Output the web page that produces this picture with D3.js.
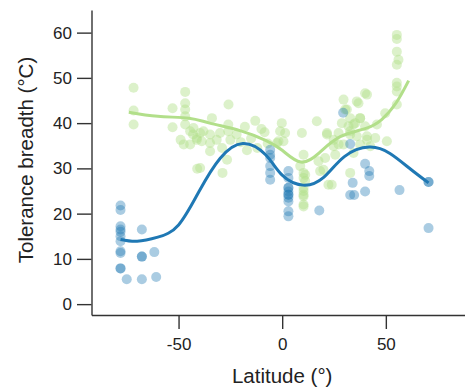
<!DOCTYPE html>
<html>
<head>
<meta charset="utf-8">
<script src="https://cdn.jsdelivr.net/npm/d3@7"></script>
<style>
  body { margin: 0; background: #fff; }
  svg { display: block; font-family: 'Liberation Sans', Arial, sans-serif; }
</style>
</head>
<body>
<div id="chart"></div>
<script>
// tick labels
const xTicks = [-50, 0, 50];
const yTicks = [0, 10, 20, 30, 40, 50, 60];

// blue group: observations
const blueLat = [
  -78, -78, -78, -78, -78, -78, -78, -78, -78, -78, -78,
  -75, -67.7, -67.7, -67.7, -67.7, -61.7, -60.8,
  -5.8, -5.8, -5.8, -5.8, -5.8, -5.8,
  3, 3, 3, 3, 3, 3, 3, 3, 3, 3, 3,
  17.9, 29.4, 32.8, 40, 40, 42, 42, 34, 32.8, 34.7, 56.6, 70.6, 70.6, 70.6
];
const blueVal = [
  21.8, 20.8, 17.2, 16.5, 16, 15, 13.9, 11.7, 11.3, 7.9, 7.9,
  5.5, 16.5, 10.5, 10.5, 5.5, 11.5, 6.0,
  34.1, 33, 32.3, 30.5, 29, 27.5,
  29.4, 27.9, 25.7, 25.7, 24.9, 24.2, 24.2, 23.5, 22.7, 20.5, 19.4,
  20.7, 42.3, 35.4, 31, 24.9, 29.4, 28.3, 26.8, 24.1, 24.1, 25.2, 27, 27, 16.8
];

// green group: observations
const greenLat = [
  -71.7, -71.7, -71.7, -52.9, -52.9,
  -46.8, -46.8, -46.8, -46.8, -46.8, -44.4, -43, -41.2, -33.9, -44.4, -38.8,
  -25.9, -42.8, -41.2, -38, -34.8, -34.8, -31.6, -30, -26, -26, -25, -29, -34.8, -26.6, -49, -47.5,
  -41, -28.8, -39.6, -39.6,
  -13, -10, -15, -12, -8.5, -18, -7, -20, -22, -17,
  -0.2, 1.4, -1.8, 9.5, 16.7, 10.3, 10.3, 10.3, 10.3, 10.3, 8.7, 18.3, 20.7, 21.6,
  10.3, 10.3, 10.3,
  29.6, 36.8, 40.9, 31.2, 28.8, 32, 35.2, 37.6, 40, 21.6, 24.8, 27.2, 29.6, 32.8, 36,
  34.4, 37.6, 40.9, -1, 0.6, -2.5, 17.5, 25.6, 19.9, 22.3, 23.9, 32.8, 11.1, 11.1, 10.3,
  55.3, 55.3, 55.3, 56.1, 55.3, 55.3, 55.3, 55.3, 55.3,
  40, 36, 49.7, 30.4, 32.8, 37.6, 34.4, 45.7, 27.2, 32.8, 40.9, 44.9, 50.5, 42.5, 24.8
];
const greenVal = [
  47.8, 42.8, 39.7, 43.3, 39.1,
  46.9, 44.4, 43, 41.5, 39.7, 38.2, 37.5, 36.7, 41.1, 35.3, 36,
  44.1, 38.9, 36.3, 38.2, 37.5, 35.6, 36.3, 37.8, 39.7, 38.2, 36.3, 34.5, 33.8, 31.9, 36.3, 35.3,
  29.9, 29, 37.8, 30.1,
  40.5, 38.7, 36.6, 34.5, 38, 39.2, 35.5, 35.8, 37.5, 34,
  40, 37.8, 36, 37.8, 40.4, 33, 27.9, 25.7, 23.8, 22, 30.5, 29.4, 32.3, 37.8,
  29, 24.2, 21.6,
  45.2, 44.4, 46.3, 43, 40, 39.3, 40, 41.1, 39.3, 37.5, 36.3, 35.3, 35.3, 37.5, 37.1,
  33.4, 35.3, 36.3, 38.2, 36, 35.6, 31.6, 33, 29.7, 26.4, 26.4, 29, 28.6, 27.2, 25,
  59.5, 58.6, 55.8, 54, 52.9, 48.9, 48.1, 47, 44.1,
  46.6, 44.8, 42.2, 43, 41.1, 41.1, 39.7, 39.7, 37.8, 38.2, 37.1, 36.7, 36, 34.9, 34.9
];

// smoothed fits
const blueFitLat = [-78, -70, -60, -50, -40, -30, -19, -8, 0, 10, 20, 30, 42, 52, 62, 70.6];
const blueFitVal = [14.3, 13.9, 14.8, 17.5, 25, 32.2, 35.5, 33, 28.5, 26.3, 28, 32.6, 34.7, 33.3, 29.8, 26.8];
const greenFitLat = [-74, -60, -45, -35, -20, -8, 0, 9, 18, 28, 40, 48, 55, 61];
const greenFitVal = [42.4, 41.5, 41.1, 40, 38.3, 36.2, 34, 31.4, 33.5, 37, 38.8, 40.8, 44.5, 49.4];

const width = 465;
const height = 388;
const blue = '#1f78b4';
const green = '#b2df8a';

const x = d3.scaleLinear().domain([-92, 88]).range([91.5, 464.6]);
const y = d3.scaleLinear().domain([-2.4, 65]).range([315, 10]);

const svg = d3.select('#chart').append('svg')
  .attr('width', width)
  .attr('height', height);

// points
const greenPts = greenLat.map((d, i) => ({lat: d, val: greenVal[i]}));
const bluePts = blueLat.map((d, i) => ({lat: d, val: blueVal[i]}));

svg.append('g')
  .selectAll('circle')
  .data(greenPts)
  .join('circle')
  .attr('cx', d => x(d.lat))
  .attr('cy', d => y(d.val))
  .attr('r', 5)
  .attr('fill', green)
  .attr('fill-opacity', 0.45);

svg.append('g')
  .selectAll('circle')
  .data(bluePts)
  .join('circle')
  .attr('cx', d => x(d.lat))
  .attr('cy', d => y(d.val))
  .attr('r', 5)
  .attr('fill', blue)
  .attr('fill-opacity', 0.38);

// fitted curves
const line = d3.line()
  .x(d => x(d[0]))
  .y(d => y(d[1]))
  .curve(d3.curveNatural);

svg.append('path')
  .datum(greenFitLat.map((d, i) => [d, greenFitVal[i]]))
  .attr('fill', 'none')
  .attr('stroke', green)
  .attr('stroke-width', 3)
  .attr('d', line);

svg.append('path')
  .datum(blueFitLat.map((d, i) => [d, blueFitVal[i]]))
  .attr('fill', 'none')
  .attr('stroke', blue)
  .attr('stroke-width', 3)
  .attr('d', line);

// axes
const xAxis = g => g
  .attr('transform', `translate(0,${y.range()[0]})`)
  .call(d3.axisBottom(x).tickValues(xTicks).tickFormat(d => String(d))
    .tickSize(14).tickPadding(9).tickSizeOuter(0));

const yAxis = g => g
  .attr('transform', `translate(${x.range()[0]},0)`)
  .call(d3.axisLeft(y).tickValues(yTicks).tickFormat(d => String(d))
    .tickSize(14.5).tickPadding(5).tickSizeOuter(0));

[xAxis, yAxis].forEach(ax => {
  const g = svg.append('g').call(ax);
  g.selectAll('path, line').attr('stroke', '#333').attr('stroke-width', 1.4);
  g.selectAll('text')
    .attr('fill', '#222')
    .attr('font-size', 17)
    .attr('font-family', "'Liberation Sans', Arial, sans-serif");
});

// axis titles
svg.append('text')
  .attr('x', x(0))
  .attr('y', 383)
  .attr('text-anchor', 'middle')
  .attr('font-size', 20.5)
  .attr('fill', '#222')
  .text('Latitude (°)');

svg.append('text')
  .attr('transform', 'translate(33,160) rotate(-90)')
  .attr('text-anchor', 'middle')
  .attr('font-size', 20.5)
  .attr('fill', '#222')
  .text('Tolerance breadth (°C)');
</script>
</body>
</html>
